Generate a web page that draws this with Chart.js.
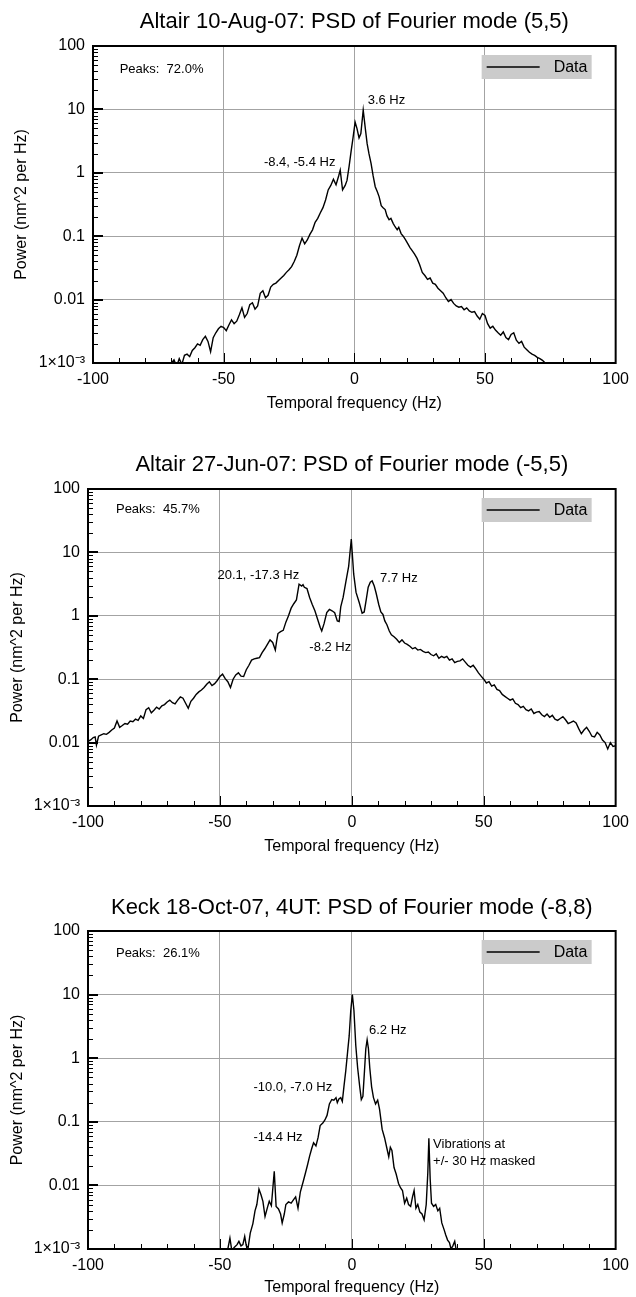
<!DOCTYPE html>
<html>
<head>
<meta charset="utf-8">
<script src="https://cdn.jsdelivr.net/npm/chart.js@4.4.1/dist/chart.umd.min.js"></script>
<style>
  html, body { margin: 0; padding: 0; background: #fff; overflow: hidden; }
  .panel { position: absolute; left: 0; width: 636px; }
</style>
</head>
<body>
<div class="panel" style="top:0px;height:443px"><canvas id="psd1" width="636" height="443"></canvas></div>
<div class="panel" style="top:443px;height:443px"><canvas id="psd2" width="636" height="443"></canvas></div>
<div class="panel" style="top:886px;height:411px"><canvas id="psd3" width="636" height="411"></canvas></div>
<script>
// tick values and labels
const freqTicks = [-100, -50, 0, 50, 100];
const powerTicks = [0.001, 0.01, 0.1, 1, 10, 100];
const powerLabels = ['1×10⁻³', '0.01', '0.1', '1', '10', '100'];

// Altair 10-Aug-07, mode (5,5)
const freq1 = [-72, -70, -69, -68, -67, -66, -65, -64, -63, -62, -61, -60, -59, -58, -57, -56, -55, -54, -53, -52,
  -51, -50, -49, -48, -47, -46, -45, -44, -43, -42, -41, -40, -39, -38, -37, -36, -35, -34, -33, -32,
  -31, -30, -29, -28, -27, -26, -25, -24, -23, -22, -21, -20, -19, -18, -17, -16, -15, -14, -13, -12,
  -11, -10, -9, -8, -7, -6, -5.4, -4.5, -3.5, -2.8, -2, -1.2, -0.5, 0.3, 1, 1.8, 2.5, 3.4, 4.2, 4.9,
  5.6, 6.4, 7.2, 8, 8.8, 9.5, 10.3, 11, 11.8, 12.5, 13.3, 14, 14.9, 15.6, 16.4, 17, 17.9, 18.7, 19.5, 20.5,
  21.3, 22, 23, 24, 25, 26, 27, 28, 29, 30, 31, 32, 33, 34, 35, 36, 37, 38, 39, 40,
  41, 42, 43, 44, 45, 46, 47, 48, 49, 50, 51, 52, 53, 54, 55, 56, 57, 58, 59, 60,
  61, 62, 63, 64, 65, 66, 67, 68, 69, 70, 71, 72, 73, 74];
const power1 = [0.00079, 0.0010, 0.00112, 0.00089, 0.00117, 0.00095, 0.00132, 0.00138, 0.00126, 0.00158, 0.00174, 0.0020, 0.0019, 0.00234, 0.00263, 0.00219, 0.00151, 0.00251, 0.0030, 0.00347,
  0.0038, 0.00363, 0.00324, 0.00398, 0.00479, 0.00417, 0.00457, 0.00575, 0.00741, 0.00525, 0.00603, 0.00832, 0.00891, 0.00708, 0.00794, 0.0126, 0.0138, 0.0107, 0.0117, 0.0158,
  0.0174, 0.0182, 0.020, 0.0219, 0.024, 0.0269, 0.0295, 0.0331, 0.0398, 0.0501, 0.0708, 0.0933, 0.0759, 0.0871, 0.107, 0.126, 0.166, 0.191, 0.234, 0.282,
  0.372, 0.537, 0.631, 0.794, 0.646, 0.891, 1.10, 0.537, 0.631, 0.759, 1.26, 2.24, 3.55, 6.31, 5.01, 3.55, 4.17, 9.77, 5.01, 2.88,
  2.0, 1.41, 0.891, 0.603, 0.501, 0.417, 0.302, 0.282, 0.263, 0.209, 0.182, 0.191, 0.158, 0.141, 0.126, 0.138, 0.110, 0.1, 0.0891, 0.0759,
  0.0661, 0.0603, 0.0525, 0.0447, 0.0355, 0.0269, 0.024, 0.0209, 0.0219, 0.0182, 0.0174, 0.0151, 0.0138, 0.0126, 0.0107, 0.00933, 0.01, 0.00871, 0.00794, 0.00759,
  0.00776, 0.00692, 0.00741, 0.00661, 0.00631, 0.00646, 0.0055, 0.0049, 0.00603, 0.00562, 0.00417, 0.00355, 0.0038, 0.00331, 0.0030, 0.00275, 0.00309, 0.00251, 0.00234, 0.00282,
  0.0030, 0.00229, 0.00204, 0.00219, 0.00178, 0.00162, 0.00148, 0.00138, 0.00132, 0.00123, 0.00117, 0.0011, 0.001, 0.00079];

// Altair 27-Jun-07, mode (-5,5)
const freq2 = [-100, -99, -98, -97.3, -96.8, -96, -95, -94, -93, -92, -91, -90, -89, -88, -87, -86, -85, -84, -83, -82,
  -81, -80, -79, -78, -77, -76, -75, -74, -73, -72, -71, -70, -69, -68, -67, -66, -65, -64, -63, -62,
  -61, -60, -59, -58, -57, -56, -55, -54, -53, -52, -51, -50, -49, -48, -47, -46, -45, -44, -43, -42,
  -41, -40, -39, -38, -37, -36, -35, -34, -33, -32, -31, -30, -29, -28.5, -28, -27, -26, -25, -24, -23,
  -22, -21, -20, -19, -18.5, -18, -17, -16, -15, -14, -13, -12, -11.4, -10.5, -9.5, -8.5, -7.5, -6.5, -5.5, -4.8,
  -4.2, -3.3, -2.2, -1.2, -0.2, 0.7, 1.6, 2.8, 3.9, 4.7, 5.4, 6.2, 7.0, 7.7, 8.5, 9.2, 10.2, 11, 11.8, 12.5,
  13.3, 14.2, 15, 16, 17, 18, 19, 20, 21, 22, 23, 24, 25, 26, 27, 28, 29, 30, 31, 32,
  33, 34, 35, 36, 37, 38, 39, 40, 41, 42, 43, 44, 45, 46, 47, 48, 49, 50, 51, 52,
  53, 54, 55, 56, 57, 58, 59, 60, 61, 62, 63, 64, 65, 66, 67, 68, 69, 70, 71, 72,
  73, 74, 75, 76, 77, 78, 79, 80, 81, 82, 83, 84, 85, 86, 87, 88, 89, 90, 91, 92,
  93, 94, 95, 96, 97, 98, 99, 100];
const power2 = [0.0105, 0.011, 0.012, 0.0123, 0.00912, 0.0126, 0.0132, 0.0138, 0.0135, 0.0145, 0.0158, 0.017, 0.0219, 0.0174, 0.0186, 0.020, 0.0195, 0.0219, 0.0214, 0.0234,
  0.0224, 0.0263, 0.024, 0.0331, 0.0355, 0.0295, 0.0324, 0.0363, 0.0339, 0.038, 0.0398, 0.0437, 0.0468, 0.0427, 0.0407, 0.0468, 0.0525, 0.0501, 0.0417, 0.0347,
  0.0447, 0.0501, 0.0575, 0.0631, 0.0676, 0.0741, 0.0832, 0.0912, 0.0794, 0.0851, 0.0955, 0.110, 0.120, 0.102, 0.0912, 0.0741, 0.1, 0.117, 0.126, 0.112,
  0.110, 0.141, 0.166, 0.20, 0.209, 0.214, 0.219, 0.263, 0.302, 0.355, 0.417, 0.38, 0.288, 0.398, 0.525, 0.562, 0.589, 0.794, 1.0, 1.32,
  1.55, 1.78, 3.16, 2.95, 3.09, 2.82, 2.69, 1.95, 1.51, 1.20, 0.891, 0.661, 0.575, 0.759, 1.12, 1.26, 1.20, 1.12, 0.832, 0.813,
  1.38, 1.95, 3.55, 6.03, 16.2, 4.57, 2.34, 1.62, 1.10, 1.15, 1.74, 2.82, 3.39, 3.55, 2.95, 2.29, 1.51, 1.15, 1.05, 0.832,
  0.724, 0.575, 0.501, 0.468, 0.427, 0.38, 0.417, 0.372, 0.355, 0.331, 0.302, 0.316, 0.288, 0.295, 0.275, 0.263, 0.269, 0.245, 0.234, 0.251,
  0.214, 0.229, 0.219, 0.229, 0.20, 0.209, 0.182, 0.191, 0.195, 0.209, 0.186, 0.166, 0.155, 0.166, 0.145, 0.126, 0.112, 0.1, 0.0871, 0.0912,
  0.0776, 0.0813, 0.0692, 0.0661, 0.0575, 0.0537, 0.0501, 0.0468, 0.049, 0.0417, 0.0398, 0.0355, 0.0372, 0.0331, 0.0316, 0.0339, 0.0288, 0.0302, 0.0309, 0.0275,
  0.0257, 0.0282, 0.0251, 0.0269, 0.0234, 0.0224, 0.024, 0.0257, 0.0229, 0.020, 0.0209, 0.0219, 0.0204, 0.0166, 0.0138, 0.0158, 0.0174, 0.0151, 0.0126, 0.0123,
  0.0145, 0.0132, 0.011, 0.01, 0.00794, 0.01, 0.00871, 0.00891];

// Keck 18-Oct-07 4UT, mode (-8,8)
const freq3 = [-48, -47, -46.2, -45.5, -44.5, -43.5, -42.8, -42, -41.3, -40.6, -40, -39.3, -38.5, -37.5, -36.7, -36, -35.2, -34.4, -33.7, -32.9,
  -32, -31.3, -30.5, -29.4, -28.7, -27.8, -27, -26.4, -25.6, -25, -24, -23, -22, -21.3, -20.4, -19.5, -18.5, -17.6, -16.8, -16,
  -15.2, -14.5, -13.6, -12.8, -12, -11, -10.2, -9.4, -8.5, -7.6, -6.8, -6, -5.5, -4.9, -4.2, -3.6, -3, -2.3, -1.6, -1,
  -0.4, 0.2, 0.8, 1.5, 2.2, 3, 3.6, 4.2, 4.8, 5.3, 5.8, 6.3, 6.8, 7.5, 8.2, 9, 9.8, 10.5, 11.5, 12.4,
  13.2, 14, 14.6, 15.2, 16, 16.8, 17.7, 18.5, 19.2, 20, 20.8, 21.5, 22.3, 23, 23.6, 24.3, 25, 25.8, 26.6, 27.4,
  28.2, 28.8, 29.2, 29.7, 30.2, 31, 31.8, 32.6, 33.3, 34.1, 35, 35.6, 36.3, 37, 37.6, 38.3, 39, 39.5, 40];
const power3 = [0.00079, 0.001, 0.00148, 0.00095, 0.00107, 0.00117, 0.00132, 0.00112, 0.00117, 0.00158, 0.00112, 0.00105, 0.00178, 0.00251, 0.00398, 0.00501, 0.00871, 0.00708, 0.00562, 0.00324,
  0.00447, 0.00562, 0.00479, 0.0166, 0.00468, 0.00427, 0.00355, 0.00257, 0.00355, 0.00501, 0.0055, 0.00525, 0.00603, 0.00661, 0.00437, 0.00794, 0.0112, 0.0155, 0.0209, 0.0288,
  0.038, 0.0468, 0.0417, 0.0562, 0.0871, 0.0955, 0.107, 0.126, 0.191, 0.224, 0.219, 0.24, 0.20, 0.229, 0.24, 0.209, 0.355, 0.631, 1.26, 2.24,
  5.62, 10, 5.62, 1.58, 0.708, 0.355, 0.224, 0.251, 0.631, 1.41, 1.95, 1.41, 0.708, 0.355, 0.24, 0.191, 0.219, 0.158, 0.0759, 0.0562,
  0.0398, 0.0282, 0.0398, 0.0355, 0.0191, 0.0151, 0.0107, 0.00912, 0.00832, 0.00525, 0.00631, 0.00501, 0.00468, 0.00661, 0.00832, 0.00437, 0.00501, 0.0038, 0.00355, 0.00288,
  0.00501, 0.0158, 0.055, 0.0126, 0.00525, 0.00468, 0.00501, 0.00398, 0.00437, 0.00257, 0.002, 0.00166, 0.00138, 0.00126, 0.001, 0.00112, 0.00132, 0.001, 0.00079];

const FONT = "'Liberation Sans', Arial, Helvetica, sans-serif";
Chart.defaults.font.family = FONT;
Chart.defaults.color = '#000';

function toPoints(xs, ys) {
  return xs.map((x, i) => ({ x: x, y: ys[i] }));
}

// box, inward ticks, legend and text notes
const framePlugin = {
  id: 'frame',
  afterDatasetsDraw(chart) {
    const { ctx, chartArea: a, scales } = chart;
    const xs = scales.x, ys = scales.y;
    ctx.save();
    ctx.strokeStyle = '#000';
    ctx.lineWidth = 1;
    ctx.beginPath();
    for (let d = -3; d < 2; d++) {
      for (let k = 2; k < 10; k++) {
        const py = Math.round(ys.getPixelForValue(k * Math.pow(10, d))) + 0.5;
        ctx.moveTo(a.left, py);
        ctx.lineTo(a.left + 5, py);
      }
    }
    for (let v = -90; v < 100; v += 10) {
      const px = Math.round(xs.getPixelForValue(v)) + 0.5;
      const len = v % 50 === 0 ? 10 : 5;
      ctx.moveTo(px, a.bottom);
      ctx.lineTo(px, a.bottom - len);
    }
    ctx.stroke();
    ctx.lineWidth = 2;
    ctx.beginPath();
    powerTicks.forEach(v => {
      const py = Math.round(ys.getPixelForValue(v));
      ctx.moveTo(a.left, py);
      ctx.lineTo(a.left + 10, py);
    });
    ctx.stroke();
    ctx.strokeRect(a.left, a.top, a.right - a.left, a.bottom - a.top);

    // legend
    const lx = a.right - 134, ly = a.top + 9;
    ctx.fillStyle = '#cbcbcb';
    ctx.fillRect(lx, ly, 110, 24);
    ctx.lineWidth = 1.5;
    ctx.beginPath();
    ctx.moveTo(lx + 5, ly + 12);
    ctx.lineTo(lx + 58, ly + 12);
    ctx.stroke();
    ctx.fillStyle = '#000';
    ctx.font = '16px ' + FONT;
    ctx.textAlign = 'left';
    ctx.textBaseline = 'middle';
    ctx.fillText('Data', lx + 72, ly + 13);

    // notes placed in data coordinates
    ctx.font = '13px ' + FONT;
    (chart.options.plugins.frame.notes || []).forEach(n => {
      ctx.fillText(n.text, xs.getPixelForValue(n.x), ys.getPixelForValue(n.y));
    });
    ctx.restore();
  }
};

function makeChart(id, title, xs, ys, notes, lay) {
  return new Chart(document.getElementById(id), {
    type: 'line',
    data: {
      datasets: [{
        label: 'Data',
        data: toPoints(xs, ys),
        borderColor: '#000',
        borderWidth: 1.4,
        pointRadius: 0,
        tension: 0
      }]
    },
    options: {
      responsive: false,
      animation: false,
      layout: { padding: { left: lay.padLeft, right: lay.padRight, top: 0, bottom: lay.padBottom } },
      plugins: {
        legend: { display: false },
        tooltip: { enabled: false },
        title: {
          display: true,
          text: title,
          fullSize: false,
          color: '#000',
          font: { size: 22, weight: 'normal' },
          padding: { top: 8.8, bottom: lay.titleBottom }
        },
        frame: { notes: notes }
      },
      scales: {
        x: {
          type: 'linear',
          min: -100,
          max: 100,
          afterBuildTicks: s => { s.ticks = freqTicks.map(v => ({ value: v })); },
          afterFit: s => { s.height = lay.xHeight; },
          ticks: { font: { size: 16 }, color: '#000', padding: 7, maxRotation: 0 },
          grid: { color: '#a3a3a3', lineWidth: 1, drawTicks: false },
          border: { display: false },
          title: { display: true, text: 'Temporal frequency (Hz)', font: { size: 16 }, color: '#000', padding: { top: 0, bottom: 0 } }
        },
        y: {
          type: 'logarithmic',
          min: 0.001,
          max: 100,
          afterBuildTicks: s => { s.ticks = powerTicks.map(v => ({ value: v })); },
          afterFit: s => { s.width = lay.yWidth; },
          ticks: {
            font: { size: 16 },
            color: '#000',
            padding: 8,
            callback: v => powerLabels[powerTicks.indexOf(v)] ?? ''
          },
          grid: { color: '#a3a3a3', lineWidth: 1, drawTicks: false },
          border: { display: false },
          title: { display: true, text: 'Power (nm^2 per Hz)', font: { size: 16 }, color: '#000', padding: { top: 0, bottom: 0 } }
        }
      }
    },
    plugins: [framePlugin]
  });
}

makeChart('psd1', 'Altair 10-Aug-07: PSD of Fourier mode (5,5)', freq1, power1, [
  { text: 'Peaks:  72.0%', x: -89.8, y: 43.4 },
  { text: '3.6 Hz', x: 5.1, y: 14.1 },
  { text: '-8.4, -5.4 Hz', x: -34.6, y: 1.48 }
], { padLeft: 12, padRight: 14, padBottom: 30, xHeight: 50, yWidth: 81, titleBottom: 10.8 });

makeChart('psd2', 'Altair 27-Jun-07: PSD of Fourier mode (-5,5)', freq2, power2, [
  { text: 'Peaks:  45.7%', x: -89.4, y: 48.4 },
  { text: '20.1, -17.3 Hz', x: -50.9, y: 4.4 },
  { text: '7.7 Hz', x: 10.7, y: 3.95 },
  { text: '-8.2 Hz', x: -16.1, y: 0.322 }
], { padLeft: 8, padRight: 18.5, padBottom: 30, xHeight: 50, yWidth: 80, titleBottom: 10.8 });

makeChart('psd3', 'Keck 18-Oct-07, 4UT: PSD of Fourier mode (-8,8)', freq3, power3, [
  { text: 'Peaks:  26.1%', x: -89.4, y: 45 },
  { text: '6.2 Hz', x: 6.5, y: 2.77 },
  { text: '-10.0, -7.0 Hz', x: -37.3, y: 0.352 },
  { text: '-14.4 Hz', x: -37.3, y: 0.0577 },
  { text: 'Vibrations at', x: 30.8, y: 0.0448 },
  { text: '+/- 30 Hz masked', x: 30.8, y: 0.0242 }
], { padLeft: 8, padRight: 18.5, padBottom: 0, xHeight: 48, yWidth: 80, titleBottom: 9.8 });
</script>
</body>
</html>
